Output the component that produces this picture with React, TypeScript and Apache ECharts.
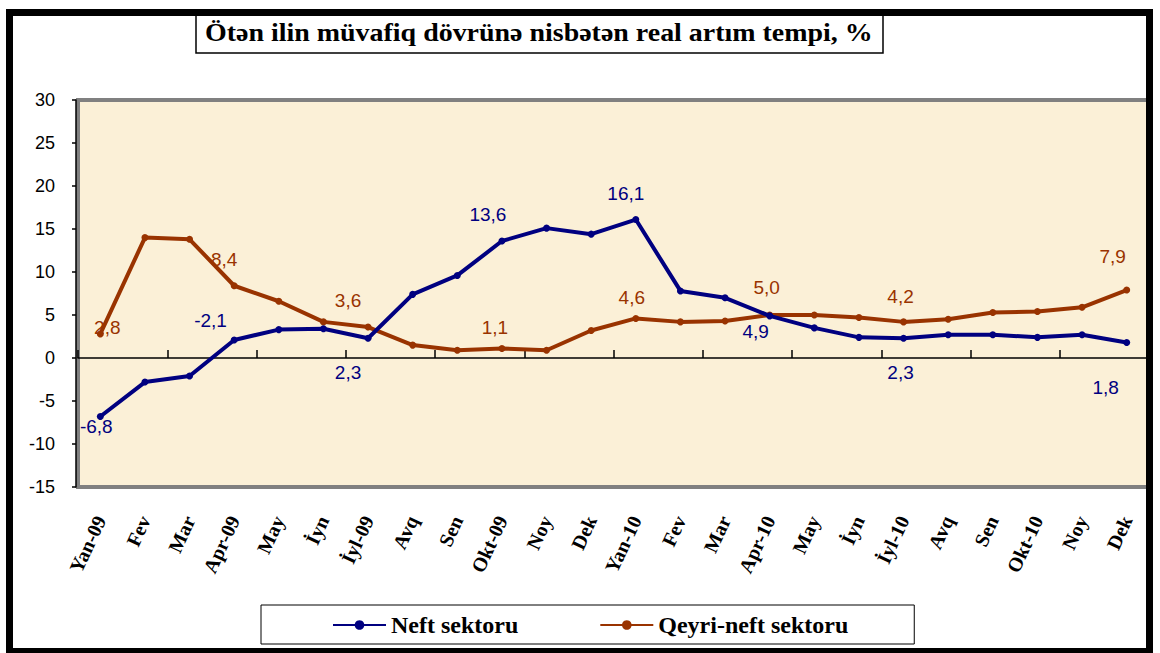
import React, { useEffect, useRef } from "react";
import * as echarts from "echarts";

const titleText = "Ötən ilin müvafiq dövrünə nisbətən real artım tempi, %";

const categories = [
  "Yan-09", "Fev", "Mar", "Apr-09", "May", "İyn", "İyl-09", "Avq", "Sen", "Okt-09", "Noy", "Dek",
  "Yan-10", "Fev", "Mar", "Apr-10", "May", "İyn", "İyl-10", "Avq", "Sen", "Okt-10", "Noy", "Dek",
];

const neftName = "Neft sektoru";
const qeyriName = "Qeyri-neft sektoru";

const neftValues = [
  -6.8, -2.8, -2.1, 2.1, 3.3, 3.4, 2.3, 7.4, 9.6, 13.6, 15.1, 14.4,
  16.1, 7.8, 7.0, 4.9, 3.5, 2.4, 2.3, 2.7, 2.7, 2.4, 2.7, 1.8,
];

const qeyriValues = [
  2.8, 14.0, 13.8, 8.4, 6.6, 4.2, 3.6, 1.5, 0.9, 1.1, 0.9, 3.2,
  4.6, 4.2, 4.3, 5.0, 5.0, 4.7, 4.2, 4.5, 5.3, 5.4, 5.9, 7.9,
];

const yTicks = { min: -15, max: 30, interval: 5 };

// label placement (index -> pixel offset from the point)
const neftLabelOffsets: Record<number, [number, number]> = {
  0: [-4, 10],
  2: [21, -56],
  6: [-20, 34],
  9: [-14, -27],
  12: [-10, -26],
  15: [-14, 16],
  18: [-3, 34],
  23: [-21, 45],
};
const qeyriLabelOffsets: Record<number, [number, number]> = {
  0: [7, -6],
  3: [-10, -26],
  6: [-20, -27],
  9: [-7, -21],
  12: [-4, -21],
  15: [-3, -28],
  18: [-3, -25],
  23: [-14, -34],
};

const NAVY = "#000080";
const BROWN = "#993300";

const fmt = (v: number) => v.toFixed(1).replace(".", ",");

function buildData(values: number[], offsets: Record<number, [number, number]>, color: string) {
  return values.map((v, i) => {
    const off = offsets[i];
    if (!off) return { value: v };
    return {
      value: v,
      label: {
        show: true,
        position: "inside",
        offset: off,
        formatter: fmt(v),
        color,
        fontSize: 19,
        fontFamily: "Liberation Sans, Arial, sans-serif",
      },
    };
  });
}

export default function App() {
  const ref = useRef<HTMLDivElement>(null);

  useEffect(() => {
    if (!ref.current) return;
    const chart = echarts.init(ref.current, undefined, { renderer: "svg" });

    const titleFont = 'bold 26px "Liberation Serif"';
    let scaleX = 1.0;
    try {
      const ctx = document.createElement("canvas").getContext("2d");
      if (ctx) {
        ctx.font = titleFont;
        const w = ctx.measureText(titleText).width;
        if (w > 0) scaleX = 668 / w;
      }
    } catch (e) {}

    const option: any = {
      animation: false,
      backgroundColor: "#ffffff",
      grid: {
        left: 78,
        right: 11,
        top: 100,
        bottom: 166,
        show: true,
        backgroundColor: "#FBF0D7",
        borderColor: "#808080",
        borderWidth: 4,
        containLabel: false,
      },
      xAxis: [
        {
          type: "category",
          data: categories,
          position: "bottom",
          axisLine: { show: true, onZero: true, lineStyle: { color: "#000", width: 1.5 } },
          axisTick: { show: true, inside: true, length: 8, lineStyle: { color: "#000", width: 1.5 } },
          axisLabel: { show: false },
          splitLine: { show: false },
        },
        {
          type: "category",
          data: categories,
          position: "bottom",
          axisLine: { show: false, onZero: false },
          axisTick: { show: false },
          axisLabel: {
            show: true,
            interval: 0,
            rotate: 65,
            margin: 30,
            color: "#000",
            fontFamily: "Liberation Serif",
            fontWeight: "bold",
            fontSize: 20,
          },
          splitLine: { show: false },
        },
      ],
      yAxis: {
        type: "value",
        min: yTicks.min,
        max: yTicks.max,
        interval: yTicks.interval,
        offset: 2,
        axisLine: { show: true, lineStyle: { color: "#000", width: 1.5 } },
        axisTick: { show: true, length: 4, lineStyle: { color: "#000", width: 1.5 } },
        axisLabel: {
          margin: 21,
          color: "#000",
          fontFamily: "Liberation Sans",
          fontSize: 18,
        },
        splitLine: { show: false },
      },
      legend: {
        left: 261,
        top: 605,
        orient: "horizontal",
        padding: [8, 66, 7, 71],
        borderColor: "#000",
        borderWidth: 1,
        backgroundColor: "#fff",
        itemWidth: 53,
        itemHeight: 12,
        itemGap: 81,
        textStyle: {
          fontFamily: "Liberation Serif",
          fontWeight: "bold",
          fontSize: 24,
          color: "#000",
        },
        data: [neftName, qeyriName],
      },
      series: [
        {
          name: neftName,
          type: "line",
          xAxisIndex: 0,
          data: buildData(neftValues, neftLabelOffsets, NAVY),
          color: NAVY,
          symbol: "circle",
          symbolSize: 7,
          lineStyle: { width: 4, color: NAVY },
          itemStyle: { color: NAVY },
          label: { show: false },
          z: 3,
        },
        {
          name: qeyriName,
          type: "line",
          xAxisIndex: 0,
          data: buildData(qeyriValues, qeyriLabelOffsets, BROWN),
          color: BROWN,
          symbol: "circle",
          symbolSize: 7,
          lineStyle: { width: 4, color: BROWN },
          itemStyle: { color: BROWN },
          label: { show: false },
          z: 2,
        },
      ],
      graphic: [
        {
          type: "rect",
          z: 100,
          shape: { x: 196, y: 15, width: 687, height: 38 },
          style: { fill: "#fff", stroke: "#000", lineWidth: 1.5 },
        },
        {
          type: "text",
          z: 101,
          x: 205,
          y: 32,
          scaleX: scaleX,
          style: {
            text: titleText,
            x: 0,
            y: 0,
            font: titleFont,
            fill: "#000",
            textVerticalAlign: "middle",
            verticalAlign: "middle",
          },
        },
        {
          type: "rect",
          z: 110,
          silent: true,
          shape: { x: 9.5, y: 12.5, width: 1140, height: 639 },
          style: { fill: "none", stroke: "#000", lineWidth: 7 },
        },
      ],
    };

    chart.setOption(option);
    return () => chart.dispose();
  }, []);

  return (
    <div
      ref={ref}
      style={{ position: "absolute", left: 0, top: 0, width: 1160, height: 653 }}
    />
  );
}
